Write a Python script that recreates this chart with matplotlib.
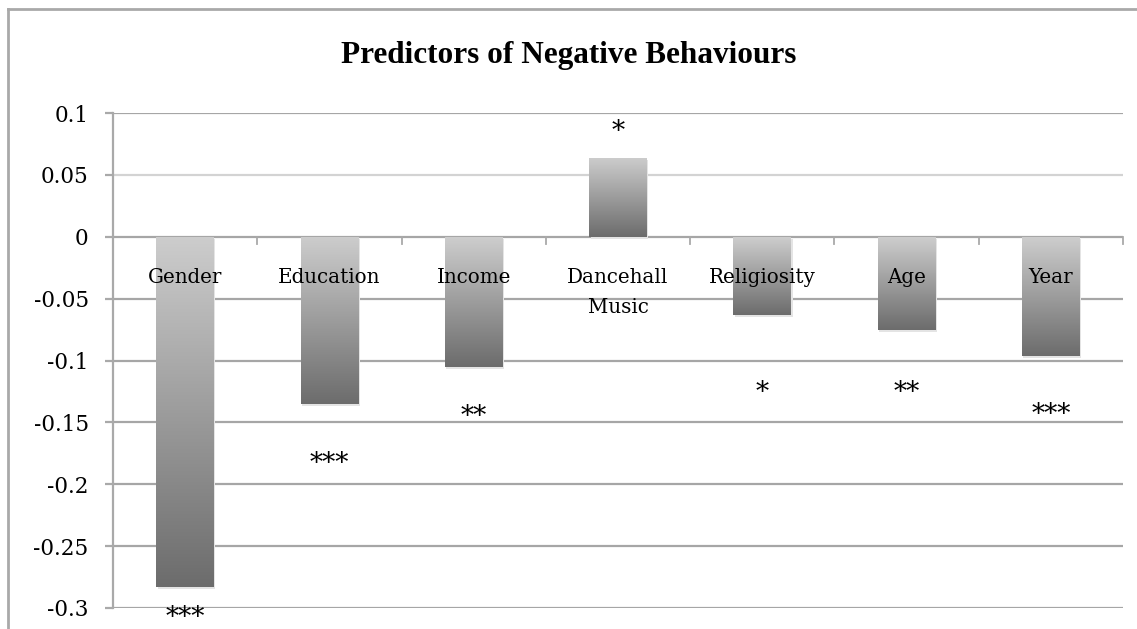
import numpy as np
import matplotlib
matplotlib.use("Agg")
import matplotlib.pyplot as plt
from matplotlib.patches import Rectangle
from matplotlib.lines import Line2D

categories = ["Gender", "Education", "Income", "Dancehall\nMusic", "Religiosity", "Age", "Year"]
values = [-0.283, -0.135, -0.105, 0.064, -0.063, -0.075, -0.096]
significance = ["***", "***", "**", "*", "*", "**", "***"]
sig_y = [-0.305, -0.180, -0.142, 0.088, -0.123, -0.123, -0.141]
yticks = [0.1, 0.05, 0, -0.05, -0.1, -0.15, -0.2, -0.25, -0.3]
ytick_labels = ["0.1", "0.05", "0", "-0.05", "-0.1", "-0.15", "-0.2", "-0.25", "-0.3"]
title = "Predictors of Negative Behaviours"

W, H = 1137, 629
fig = plt.figure(figsize=(W / 100, H / 100), dpi=100)
fig.patch.set_facecolor("white")

# outer chart border (top and left visible)
fig.add_artist(Line2D([8 / W, 1.01], [1 - 8.5 / H] * 2, transform=fig.transFigure, color="#a9a9a9", lw=2))
fig.add_artist(Line2D([8 / W] * 2, [-0.01, 1 - 8.5 / H], transform=fig.transFigure, color="#a9a9a9", lw=2))

ax = fig.add_axes([113 / W, 1 - 608 / H, (1123 - 113) / W, (608 - 113) / H])
ax.set_xlim(0, len(categories))
ax.set_ylim(-0.3, 0.1)

for sp in ["top", "right", "bottom"]:
    ax.spines[sp].set_visible(False)
ax.spines["left"].set_color("#a9a9a9")
ax.spines["left"].set_linewidth(1.6)

serif = "DejaVu Serif"
ax.set_yticks(yticks)
ax.set_yticklabels(ytick_labels, fontfamily=serif, fontsize=15.5)
ax.tick_params(axis="y", length=6, width=1.6, color="#a9a9a9", pad=11.5)
ax.set_xticks([])

for t in yticks:
    c = "#d3d3d3" if t == 0.05 else "#a6a6a6"
    ax.axhline(t, color=c, lw=1.6, zorder=1)

# category separator ticks on zero line
for i in range(1, len(categories) + 1):
    ax.plot([i, i], [0, -0.006], color="#a9a9a9", lw=1.3, zorder=2, clip_on=False)

x = np.arange(len(categories)) + 0.5
bw = 0.4
grad = np.linspace(0, 1, 256).reshape(-1, 1)
cmap = matplotlib.colors.LinearSegmentedColormap.from_list("g", ["#cdcdcd", "#6c6c6c"])
for xi, v in zip(x, values):
    top, bot = max(v, 0), min(v, 0)
    sh = Rectangle((xi - bw / 2 + 0.01, bot - 0.002), bw, top - bot, facecolor="#e4e4e4", edgecolor="none", zorder=2)
    ax.add_patch(sh)
    rect = Rectangle((xi - bw / 2, bot), bw, top - bot, facecolor="none", edgecolor="none", zorder=3)
    ax.add_patch(rect)
    im = ax.imshow(grad, cmap=cmap, aspect="auto", extent=(xi - bw / 2, xi + bw / 2, bot, top),
                   origin="upper", zorder=3, interpolation="bilinear")
    im.set_clip_path(rect)

ax.set_xlim(0, len(categories))
ax.set_ylim(-0.3, 0.1)

for xi, lab in zip(x, categories):
    ax.text(xi, -0.0255, lab, ha="center", va="top", fontfamily=serif, fontsize=14.3, zorder=5,
            linespacing=1.68)

for xi, s, sy in zip(x, significance, sig_y):
    ax.text(xi, sy - 0.003, s, ha="center", va="center", fontfamily=serif,
            fontsize=19, zorder=5, clip_on=False)

fig.text(0.5, 1 - 56 / H, title, ha="center", va="center", fontfamily="Liberation Serif",
         fontweight="bold", fontsize=22.5)

fig.savefig("out.png", dpi=100)
